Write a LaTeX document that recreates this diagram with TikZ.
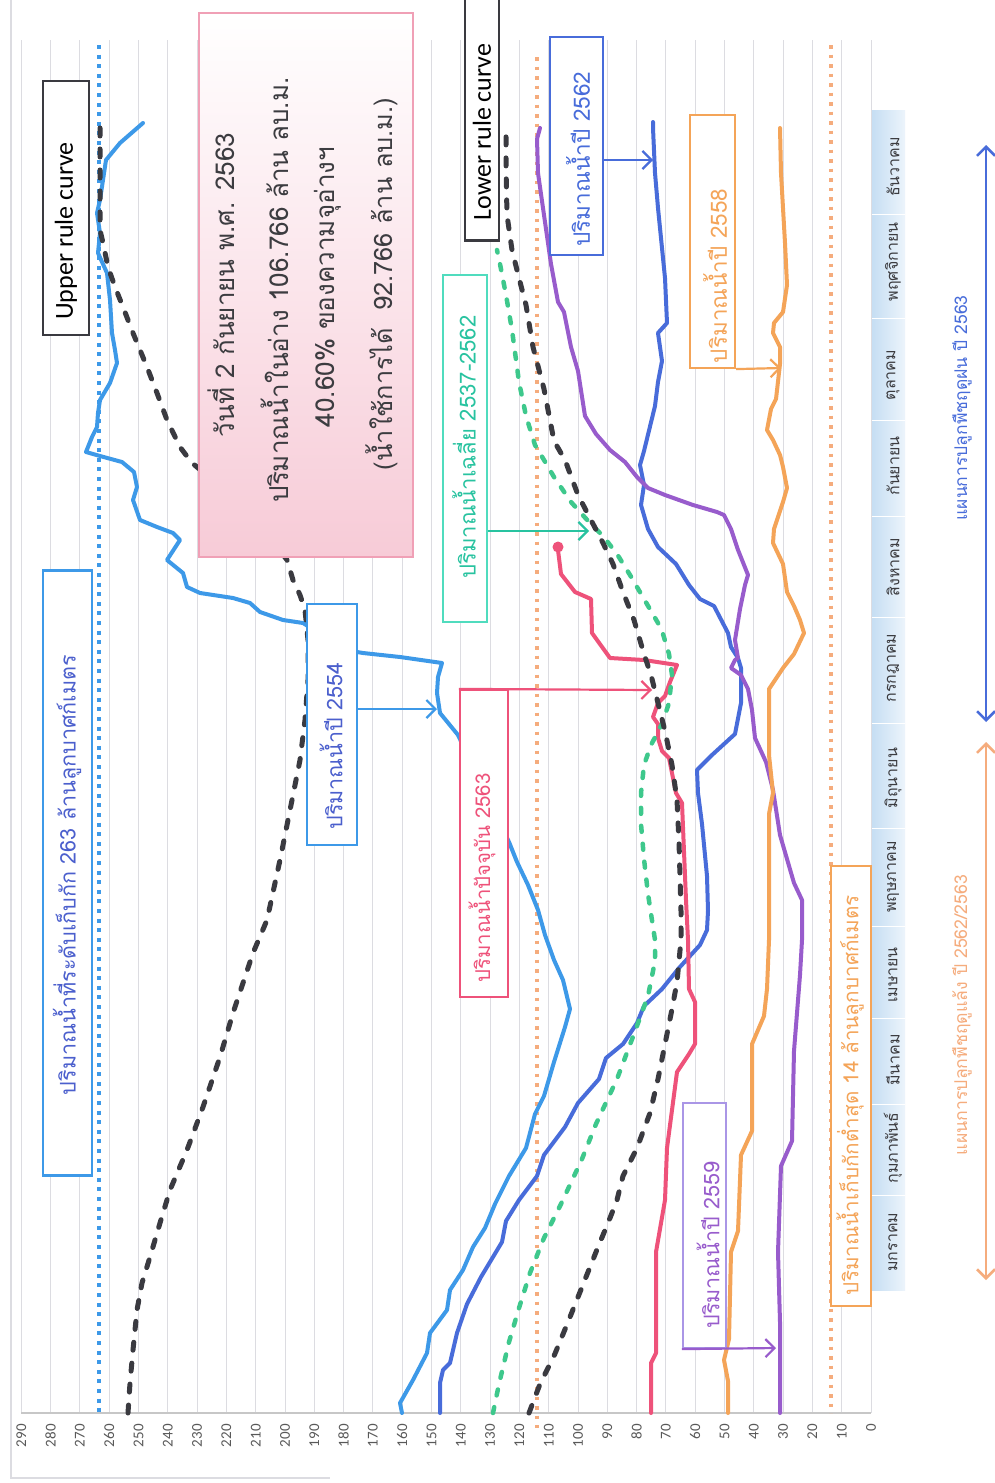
\documentclass[tikz,border=0pt]{standalone}
\usepackage{fontspec}
\usepackage{graphicx}
\setmainfont{Carlito}
\newfontfamily\thai[Script=Thai]{Loma}
\usetikzlibrary{arrows.meta,calc}
\definecolor{cA}{RGB}{61,153,232}
\definecolor{cB}{RGB}{72,108,218}
\definecolor{cP}{RGB}{152,92,204}
\definecolor{cO}{RGB}{244,164,88}
\definecolor{cK}{RGB}{238,82,122}
\definecolor{cG}{RGB}{62,200,140}
\definecolor{cD}{RGB}{58,58,64}
\definecolor{cT}{RGB}{80,220,190}
\definecolor{cTt}{RGB}{40,195,160}
\definecolor{cV}{RGB}{75,95,205}
\definecolor{cL}{RGB}{170,150,230}
\definecolor{gridc}{RGB}{220,220,225}
\definecolor{infob}{RGB}{240,160,182}
\definecolor{infop}{RGB}{247,203,215}
\definecolor{bandA}{RGB}{198,222,243}
\definecolor{bandB}{RGB}{236,244,251}
\definecolor{orl}{RGB}{245,172,125}
\definecolor{txt}{RGB}{60,60,64}
\newcommand{\fitT}[2]{\resizebox{#1pt}{!}{\thai\fontsize{20}{24}\selectfont #2}}
\begin{document}
\begin{tikzpicture}[x=1pt,y=-1pt,
  curve/.style={line width=4pt, line join=round, line cap=round},
  rulec/.style={curve, color=cD, line width=5pt, dash pattern=on 8pt off 13pt},
  avgc/.style={curve, color=cG, line width=4.5pt, dash pattern=on 6pt off 12pt},
  lbox/.style={draw, fill=white, rotate=90, inner sep=0pt, line width=2.2pt},
  ttxt/.style={rotate=90, inner sep=0pt},
  arr/.style={line width=2.2pt, -{Straight Barb[length=9pt,width=18pt]}},
  dbl/.style={line width=2.5pt, {Straight Barb[length=9pt,width=18pt]}-{Straight Barb[length=9pt,width=18pt]}},
  gridl/.style={color=gridc, line width=1pt},
  mon/.style={rotate=90, inner sep=0pt, font=\thai\fontsize{16}{18}\selectfont, text=txt},
  tick/.style={rotate=90, anchor=east, inner sep=0pt, font=\fontsize{15}{17}\selectfont, text=black!65}
  ]
\useasboundingbox (0,0) rectangle (994,1483);
\fill[white] (0,0) rectangle (994,1483);
% frame
\draw[color=gridc, line width=1.2pt] (11,0) -- (11,1478) -- (330,1478);
% grid
\foreach \v in {0,10,...,290} {
  \draw[gridl] ({871-2.93*\v},40) -- ({871-2.93*\v},1413);
  \node[tick] (t\v) at ({871-2.93*\v},1424) {\v};
}
\draw[color=black!22, line width=2pt] (21,1413) -- (871,1413);
% month band
\shade[left color=bandA, right color=bandB] (872,110) rectangle (905,1290);
\foreach \yy in {1195,1104,1018,926,828,723,617,516,420,318,214}
  \draw[white, line width=1pt] (872,\yy) -- (905,\yy);
\node[mon] (m1) at (893,1242) {มกราคม};
\node[mon] (m2) at (893,1148) {กุมภาพันธ์};
\node[mon] (m3) at (893,1060) {มีนาคม};
\node[mon] (m4) at (893,975) {เมษายน};
\node[mon] (m5) at (893,877) {พฤษภาคม};
\node[mon] (m6) at (893,778) {มิถุนายน};
\node[mon] (m7) at (893,668) {กรกฎาคม};
\node[mon] (m8) at (893,567) {สิงหาคม};
\node[mon] (m9) at (893,466) {กันยายน};
\node[mon] (m10) at (893,375) {ตุลาคม};
\node[mon] (m11) at (893,262) {พฤศจิกายน};
\node[mon] (m12) at (893,167) {ธันวาคม};
% reference lines
\draw[cA, line width=4pt, dash pattern=on 4pt off 5.6pt] (99,45) -- (99,1413);
\draw[orl, line width=3.5pt, dash pattern=on 3.5pt off 6pt] (537,57) -- (537,1428);
\draw[orl, line width=3.5pt, dash pattern=on 3.5pt off 6pt] (831,45) -- (831,1413);
% curves
\draw[curve, cA] plot coordinates {(402,1413) (400,1403) (413,1380) (427,1353) (430,1333) (447,1310) (450,1290) (463,1270) (473,1247) (485,1228) (495,1204) (509,1176) (526,1148) (535,1114) (544,1096) (554,1062) (565,1027) (570,1009) (563,980) (554,960) (545,935) (538,910) (528,885) (517,862) (509,842) (484,790) (458,735) (440,713) (437,693) (438,677) (442,663) (400,657) (363,653) (357,652) (330,640) (303,623) (283,620) (260,612) (250,603) (233,598) (200,593) (187,587) (183,573) (167,560) (180,540) (173,533) (157,527) (140,520) (133,500) (137,487) (134,472) (122,462) (100,456) (86,452) (92,437) (97,427) (98,413) (100,400) (110,383) (117,363) (115,350) (112,333) (110,300) (107,273) (98,253) (100,233) (97,213) (100,200) (103,180) (106,160) (120,143) (143,123)};
\draw[curve, cB] plot coordinates {(440,1413) (440,1383) (443,1370) (450,1363) (457,1333) (467,1304) (481,1277) (502,1242) (506,1221) (519,1200) (537,1176) (544,1155) (565,1127) (578,1103) (599,1079) (606,1058) (623,1044) (637,1023) (644,1006) (662,989) (679,968) (700,945) (707,930) (708,911) (707,876) (702,824) (698,793) (697,770) (712,755) (735,734) (741,703) (741,668) (738,658) (731,647) (728,633) (714,606) (700,599) (689,585) (676,564) (658,547) (648,529) (641,505) (644,485) (640,465) (644,451) (655,406) (658,382) (662,361) (658,333) (667,323) (665,278) (658,208) (655,173) (653,128) (653,122)};
\draw[curve, cP] plot coordinates {(780,1413) (780,1322) (778,1252) (781,1166) (792,1141) (794,1051) (800,975) (802,940) (802,900) (794,883) (780,835) (773,790) (766,762) (755,738) (752,710) (748,689) (741,675) (731,668) (735,660) (738,658) (735,640) (740,609) (745,585) (748,575) (738,550) (731,529) (724,515) (717,512) (693,505) (665,495) (648,488) (637,477) (625,462) (610,450) (596,434) (585,416) (578,371) (571,347) (564,312) (558,302) (551,264) (544,215) (538,173) (537,139) (540,128)};
\draw[curve, cO] plot coordinates {(728,1413) (728,1381) (724,1360) (729,1339) (731,1252) (738,1231) (741,1155) (752,1131) (752,1044) (764,1016) (767,989) (769,940) (769,814) (773,793) (769,755) (769,689) (783,668) (794,654) (804,633) (800,620) (794,606) (787,592) (783,564) (773,543) (774,529) (783,502) (787,488) (783,467) (780,455) (773,440) (767,430) (771,409) (776,399) (780,364) (780,347) (773,333) (774,323) (783,312) (787,285) (785,243) (781,173) (780,128)};
\draw[curve, cK] plot coordinates {(651,1413) (651,1363) (656,1353) (656,1252) (665,1200) (667,1148) (677,1072) (689,1054) (695,1044) (695,1002) (689,989) (688,940) (686,900) (682,803) (676,793) (669,758) (662,751) (658,738) (658,724) (653,717) (658,703) (665,696) (670,682) (677,665) (644,660) (610,658) (592,633) (591,599) (575,592) (561,574) (558,550)};
\fill[cK] (558,547) circle (5.5pt);
\draw[avgc] plot coordinates {(493,1413) (499,1384) (509,1342) (519,1308) (530,1273) (544,1238) (561,1204) (582,1159) (596,1124) (617,1079) (634,1034) (648,996) (655,961) (655,940) (648,894) (644,859) (641,824) (641,793) (644,765) (651,745) (662,724) (669,703) (672,675) (669,654) (663,634) (658,623) (644,599) (630,575) (617,554) (603,536) (589,522) (571,502) (554,477) (544,460) (535,445) (526,416) (519,382) (512,330) (506,295) (500,264) (497,250)};
\draw[rulec] plot coordinates {(128,1413) (130,1383) (133,1350) (137,1310) (142,1283) (150,1257) (160,1223) (170,1190) (187,1150) (203,1107) (220,1057) (233,1013) (253,953) (267,920) (280,860) (290,810) (300,760) (305,720) (308,680) (308,640) (305,610) (300,595) (293,580) (287,560) (250,510) (192,463) (180,447) (167,420) (157,393) (147,367) (133,333) (123,307) (115,287) (108,267) (103,243) (100,230) (100,123)};
\draw[rulec] plot coordinates {(529,1413) (540,1384) (554,1356) (568,1322) (582,1287) (596,1252) (610,1218) (617,1200) (623,1176) (637,1148) (650,1113) (658,1079) (665,1044) (672,1009) (677,982) (681,940) (681,911) (679,842) (677,800) (672,765) (665,731) (658,703) (651,675) (644,654) (634,620) (623,592) (613,564) (603,543) (592,522) (578,495) (565,460) (554,441) (544,389) (533,347) (526,305) (519,278) (512,250) (507,215) (506,167) (506,135)};
% info box
\node[rotate=90, draw=infob, line width=1.2pt, top color=white, bottom color=infop, minimum width=544pt, minimum height=214pt, inner sep=0pt] (binfo) at (306,285) {};
\node[ttxt, text=txt] (i1) at (221,285) {\fitT{304}{วันที่ 2 กันยายน พ.ศ. 2563}};
\node[ttxt, text=txt] (i2) at (275,290) {\fitT{425}{ปริมาณน้ำในอ่าง 106.766 ล้าน ลบ.ม.}};
\node[ttxt, text=txt] (i3) at (328,287) {\fitT{280}{40.60\% ของความจุอ่างฯ}};
\node[ttxt, text=txt] (i4) at (382,284) {\fitT{372}{(น้ำใช้การได้\ \ 92.766 ล้าน ลบ.ม.)}};
% rule curve labels
\node[lbox, draw=cD, minimum width=254pt, minimum height=46pt] (bup) at (66,208) {};
\node[ttxt, font=\fontsize{26}{30}\selectfont] (tup) at (66,231) {Upper rule curve};
\node[lbox, draw=cD, minimum width=245pt, minimum height=34pt] (blo) at (482,118) {};
\node[ttxt, font=\fontsize{26}{30}\selectfont] (tlo) at (482,132) {Lower rule curve};
% labels
\node[lbox, draw=cA, minimum width=605pt, minimum height=49pt] (b263) at (67.5,873) {};
\node[ttxt, text=cV] (t263) at (67,875) {\fitT{440}{ปริมาณน้ำที่ระดับเก็บกัก 263 ล้านลูกบาศก์เมตร}};
\node[lbox, draw=cA, line width=2.5pt, minimum width=241pt, minimum height=50pt] (b2554) at (332,724.5) {};
\node[ttxt, text=cV] (t2554) at (331,746) {\fitT{167}{ปริมาณน้ำปี 2554}};
\node[lbox, draw=cK, minimum width=307pt, minimum height=48pt] (b2563) at (484,843.5) {};
\node[ttxt, text=cK] (t2563) at (482,878) {\fitT{209}{ปริมาณน้ำปัจจุบัน 2563}};
\node[lbox, draw=cT, line width=1.5pt, minimum width=347pt, minimum height=44pt] (bavg) at (465,448.5) {};
\node[ttxt, text=cTt] (tavg) at (464,447) {\fitT{263}{ปริมาณน้ำเฉลี่ย 2537-2562}};
\node[lbox, draw=cB, line width=2.5pt, minimum width=218pt, minimum height=53pt] (b2562) at (576.5,146) {};
\node[ttxt, text=cB] (t2562) at (578,159) {\fitT{175}{ปริมาณน้ำปี 2562}};
\node[lbox, draw=cO, minimum width=253pt, minimum height=45pt] (b2558) at (712.5,241.5) {};
\node[ttxt, text=cO] (t2558) at (715,276) {\fitT{174}{ปริมาณน้ำปี 2558}};
\node[lbox, draw=cL, minimum width=245pt, minimum height=43pt] (b2559) at (704.5,1225.5) {};
\node[ttxt, text=cP] (t2559) at (708,1245) {\fitT{167}{ปริมาณน้ำปี 2559}};
\node[lbox, draw=cO, minimum width=440pt, minimum height=40pt] (b14) at (851,1086) {};
\node[ttxt, text=cO] (t14) at (850,1095) {\fitT{400}{ปริมาณน้ำเก็บกักต่ำสุด 14 ล้านลูกบาศก์เมตร}};
% arrows from labels to curves
\coordinate (p2562) at (653,160);
\coordinate (pavg) at (589,531);
\coordinate (p2554) at (437,709);
\coordinate (p2563) at (652,690);
\coordinate (p2558) at (781,368);
\coordinate (p2559) at (776,1348);
\draw[arr, cB] (b2562.south |- p2562) -- (p2562);
\draw[arr, cTt] (bavg.south |- pavg) -- (pavg);
\draw[arr, cA] (b2554.south |- p2554) -- (p2554);
\draw[arr, cK] (b2563.north east) -- (p2563);
\draw[arr, cO] (b2558.south west) -- (p2558);
\draw[arr, cP] (b2559.north west) -- (p2559);
% season arrows
\coordinate (ra1) at (986,145);
\coordinate (ra2) at (986,722);
\coordinate (rb1) at (986,742);
\coordinate (rb2) at (986,1280);
\draw[dbl, cB] (ra1) -- (ra2);
\draw[dbl, orl] (rb1) -- (rb2);
\node[ttxt, text=cB] (lrain) at (962,408) {\fitT{225}{แผนการปลูกพืชฤดูฝน ปี 2563}};
\node[ttxt, text=orl] (ldry) at (962,1015) {\fitT{280}{แผนการปลูกพืชฤดูแล้ง ปี 2562/2563}};
\end{tikzpicture}
\end{document}
